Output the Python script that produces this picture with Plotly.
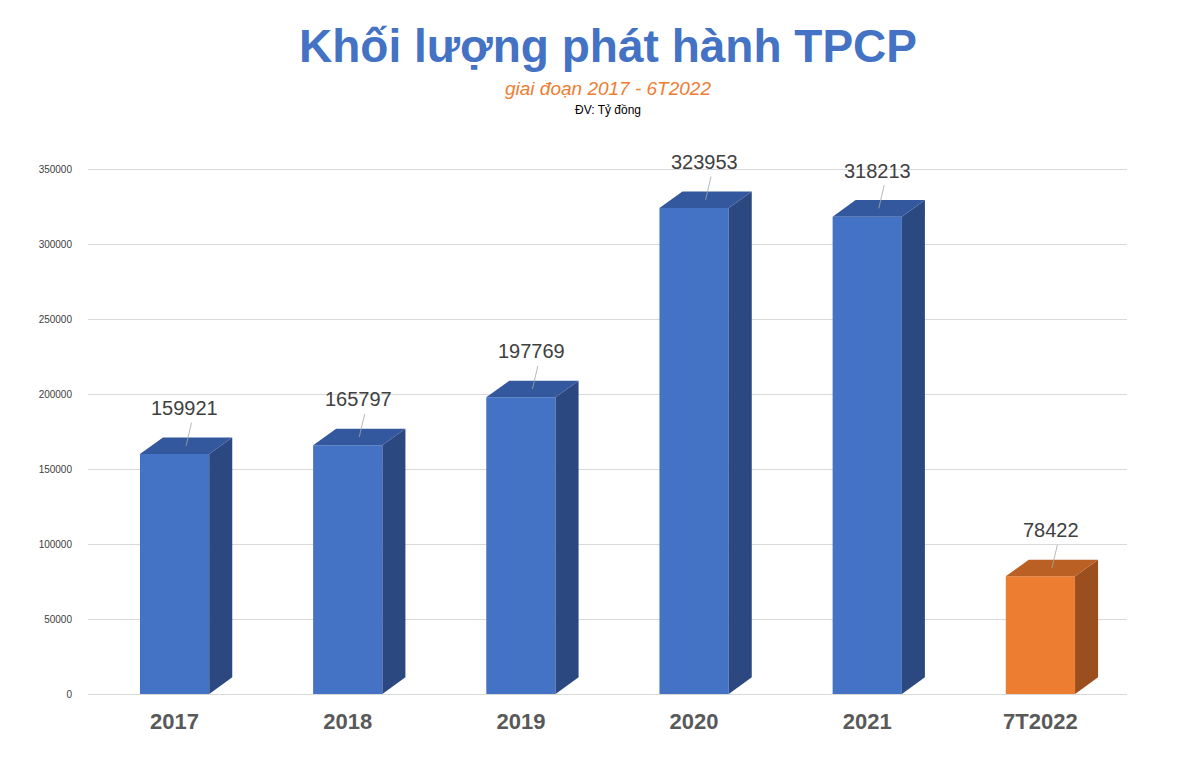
import plotly.graph_objects as go

categories = ["2017", "2018", "2019", "2020", "2021", "7T2022"]
values = [159921, 165797, 197769, 323953, 318213, 78422]
front_colors = ["#4472C4"] * 5 + ["#ED7D31"]
side_colors = ["#2B4880"] * 5 + ["#9C4F1E"]
top_colors = ["#34589E"] * 5 + ["#BA6024"]
tick_vals = list(range(0, 350001, 50000))

x = list(range(len(categories)))
hw, dx, dy = 0.2, 0.133, 11100

fig = go.Figure()
for i, v in enumerate(values):
    fig.add_trace(go.Scatter(x=[i + hw, i + hw + dx, i + hw + dx, i + hw, i + hw],
                             y=[0, dy, v + dy, v, 0], fill="toself", mode="lines",
                             line=dict(width=0), fillcolor=side_colors[i],
                             hoverinfo="skip", showlegend=False))
    fig.add_trace(go.Scatter(x=[i - hw, i - hw + dx, i + hw + dx, i + hw, i - hw],
                             y=[v, v + dy, v + dy, v, v], fill="toself", mode="lines",
                             line=dict(width=0), fillcolor=top_colors[i],
                             hoverinfo="skip", showlegend=False))
fig.add_trace(go.Bar(x=x, y=values, width=2 * hw, marker=dict(color=front_colors, line=dict(width=0)),
                     showlegend=False))
for i, v in enumerate(values):
    fig.add_annotation(x=i + dx / 2, y=v + dy / 2, ax=i + 0.1, ay=v + 22000,
                       axref="x", ayref="y", showarrow=True, arrowhead=0,
                       arrowwidth=0.8, arrowcolor="#A6A6A6", text="")
    fig.add_annotation(x=i + 0.06, y=v + 22000, yanchor="bottom", text=str(v), showarrow=False,
                       font=dict(size=20, color="#404040", family="Liberation Sans"))

fig.add_annotation(text="<b>Khối lượng phát hành TPCP</b>", x=0.5, y=40, xref="paper", yref="paper",
                   showarrow=False, font=dict(size=46, color="#4472C4"))
fig.add_annotation(text="<i>giai đoạn 2017 - 6T2022</i>", x=0.5, y=0, xref="paper", yref="paper",
                   showarrow=False, font=dict(size=19, color="#ED7D31"))
fig.add_annotation(text="ĐV: Tỷ đồng", x=0.5, y=0, xref="paper", yref="paper",
                   showarrow=False, font=dict(size=12, color="black"))
anns = fig.layout.annotations
anns[-3].update(y=1.0, yanchor="middle", yshift=612 + 86 - 698 + 0)
fig.update_layout(
    width=1200, height=771, plot_bgcolor="white", paper_bgcolor="white",
    margin=dict(l=80, r=81, t=86, b=73),
    font=dict(family="Liberation Sans"),
    xaxis=dict(range=[-0.5, 5.5], tickvals=x, ticktext=[f"<b>{c}</b>" for c in categories],
               tickfont=dict(size=22, color="#595959"), showgrid=False, zeroline=False,
               showline=False, ticks=""),
    yaxis=dict(range=[-8000, 400000], tickvals=tick_vals, tickformat="d", showgrid=True,
               gridcolor="#D9D9D9", zeroline=False, tickfont=dict(size=10, color="#404040"),
               ticklabelstandoff=15),
)
# place header texts relative to the top of the plot area (plot top at 86px)
anns[-3].update(y=1.0, yanchor="middle", yshift=86 - 38)
anns[-2].update(y=1.0, yanchor="middle", yshift=86 - 80)
anns[-1].update(y=1.0, yanchor="middle", yshift=86 - 102)
fig.write_html("out.html")
